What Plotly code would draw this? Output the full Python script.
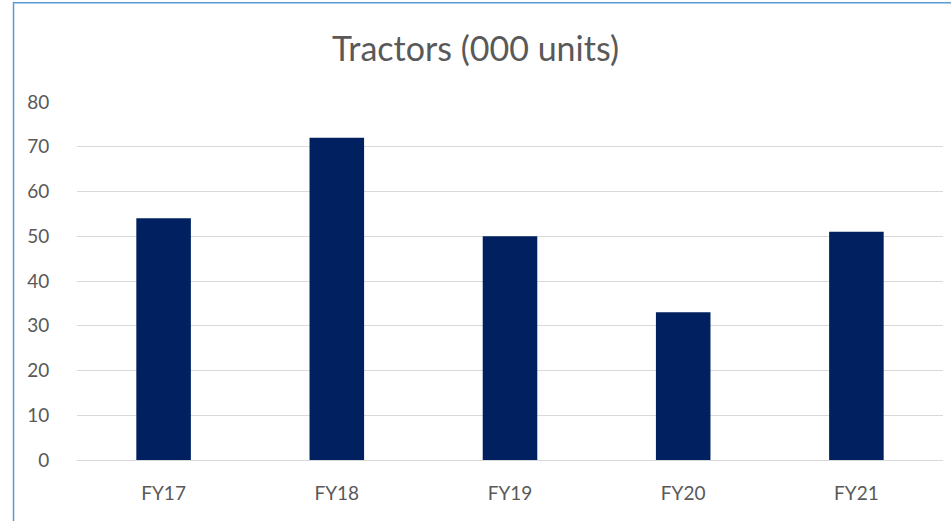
import plotly.graph_objects as go

years = ["FY17", "FY18", "FY19", "FY20", "FY21"]
tractors = [54, 72, 50, 33, 51]
y_ticks = [0, 10, 20, 30, 40, 50, 60, 70, 80]

fig = go.Figure(
    go.Bar(
        x=years,
        y=tractors,
        marker=dict(color="#002060", line=dict(width=0)),
        hoverinfo="x+y",
    )
)

fig.update_layout(
    width=951,
    height=521,
    margin=dict(l=77, r=8, t=102, b=61),
    paper_bgcolor="white",
    plot_bgcolor="white",
    bargap=0.685,
    showlegend=False,
    font=dict(family="Lato", color="#595959", size=19),
    title=dict(
        text="Tractors (000 units)",
        x=0.5, xanchor="center",
        y=1 - 49 / 521, yanchor="middle",
        font=dict(size=34, color="#595959"),
    ),
    # chart frame, only left and top edges visible in the crop
    shapes=[
        dict(type="rect", xref="paper", yref="paper",
             x0=-0.0733, x1=1.2, y0=-0.5, y1=1.277,
             line=dict(color="#5b9bd5", width=1.5), layer="below"),
    ],
)

fig.update_xaxes(
    showgrid=False,
    showline=False,
    ticks="outside", ticklen=16, tickcolor="rgba(0,0,0,0)",
    tickfont=dict(size=19, color="#595959"),
)

fig.update_yaxes(
    range=[0, 80],
    tickvals=y_ticks,
    showgrid=True, gridcolor="#d9d9d9", gridwidth=1,
    zeroline=True, zerolinecolor="#d9d9d9", zerolinewidth=1,
    showline=False,
    ticks="outside", ticklen=23, tickcolor="rgba(0,0,0,0)",
    tickfont=dict(size=19, color="#595959"),
)

# page body has a default 8px margin; drop it so the figure sits at 0,0
fig.write_html(
    "out.html",
    config={"displayModeBar": False},
    post_script="document.body.style.margin='0';",
)
